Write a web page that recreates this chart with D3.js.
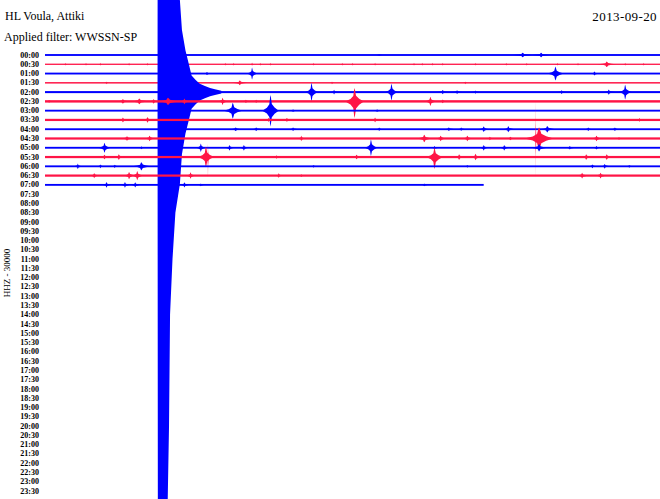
<!DOCTYPE html>
<html>
<head>
<meta charset="utf-8">
<script src="https://cdn.jsdelivr.net/npm/d3@7"></script>
<style>
  body { margin: 0; background: #fff; }
  text { font-family: "Liberation Serif", "DejaVu Serif", serif; fill: #000; }
</style>
</head>
<body>
<div id="heli"></div>
<script>
// Header texts
var stationName = "HL Voula, Attiki",
    filterText = "Applied filter: WWSSN-SP",
    dayLabel = "2013-09-20",
    channelLabel = "HHZ - 30000";

// One trace every 30 minutes
var rowLabels = ["00:00","00:30","01:00","01:30","02:00","02:30","03:00","03:30",
  "04:00","04:30","05:00","05:30","06:00","06:30","07:00","07:30",
  "08:00","08:30","09:00","09:30","10:00","10:30","11:00","11:30",
  "12:00","12:30","13:00","13:30","14:00","14:30","15:00","15:30",
  "16:00","16:30","17:00","17:30","18:00","18:30","19:00","19:30",
  "20:00","20:30","21:00","21:30","22:00","22:30","23:00","23:30"];
var rowColors = ["#0000ff", "#ff1446"];

// background noise level of each recorded trace (in trace spacings)
var noiseLevel = [0.10, 0.07, 0.10, 0.08, 0.11, 0.13, 0.10, 0.12,
                  0.10, 0.12, 0.10, 0.12, 0.10, 0.12, 0.10];
var lastRowEnd = 21.4;   // minutes recorded in the last trace

// events: [row, minute, amplitude up, amplitude down, duration in minutes]
var events = [
  [0,16.3,0.12,0.12,0.3],[0,23.3,0.25,0.25,0.9],[0,24.2,0.25,0.25,0.8],
  [1,1.0,0.16,0.16,0.15],[1,2.0,0.16,0.16,0.15],[1,2.7,0.16,0.16,0.15],[1,4.1,0.16,0.16,0.15],
  [1,5.0,0.16,0.16,0.15],[1,8.8,0.16,0.16,0.15],[1,9.2,0.16,0.16,0.15],[1,10.1,0.18,0.18,0.15],
  [1,10.5,0.16,0.16,0.15],[1,11.0,0.16,0.16,0.15],[1,13.1,0.16,0.16,0.15],[1,14.5,0.16,0.16,0.15],
  [1,15.0,0.16,0.16,0.15],[1,16.1,0.16,0.16,0.15],[1,18.0,0.16,0.16,0.15],[1,18.4,0.16,0.16,0.15],
  [1,18.9,0.16,0.16,0.15],[1,19.4,0.16,0.16,0.15],[1,21.0,0.16,0.16,0.15],[1,22.5,0.16,0.16,0.15],
  [1,23.5,0.16,0.16,0.15],[1,25.0,0.16,0.16,0.15],[1,26.0,0.16,0.16,0.15],[1,27.4,0.3,0.3,0.9],
  [1,28.3,0.16,0.16,0.15],[1,29.2,0.16,0.16,0.15],
  [2,7.9,0.15,0.15,0.6],[2,10.1,0.65,0.65,0.5],[2,24.9,0.75,0.75,0.8],[2,26.8,0.22,0.22,0.5],
  [3,3.0,0.14,0.14,0.2],[3,9.5,0.25,0.25,0.8],[3,14.0,0.14,0.14,0.2],[3,20.5,0.14,0.14,0.2],
  [4,7.9,0.3,0.3,0.6],[4,13.0,1.0,1.0,0.6],[4,14.1,0.25,0.25,0.5],[4,16.9,0.9,0.9,0.6],
  [4,19.4,0.22,0.22,0.6],[4,20.1,0.2,0.2,0.5],[4,21.0,0.18,0.18,0.4],[4,25.2,0.2,0.2,0.5],
  [4,27.5,0.28,0.28,0.6],[4,28.3,0.8,0.8,0.6],
  [5,0.2,0.15,0.15,0.4],[5,3.8,0.25,0.25,0.8],[5,4.6,0.3,0.3,1.0],[5,5.3,0.25,0.25,0.6],
  [5,6.0,0.4,0.4,1.2],[5,6.8,0.3,0.3,0.6],[5,8.66,0.4,0.4,0.5],[5,9.8,0.18,0.18,0.5],
  [5,10.3,0.18,0.18,0.4],[5,15.1,1.45,1.8,0.9],[5,18.8,0.5,0.5,0.6],[5,19.4,0.2,0.2,0.4],
  [6,9.16,0.86,0.86,0.9],[6,11.0,1.7,1.7,0.8],[6,12.1,0.15,0.15,0.4],[6,16.2,0.15,0.15,0.4],
  [7,3.8,0.25,0.25,0.6],[7,5.0,0.3,0.3,0.6],[7,10.9,0.2,0.2,0.5],[7,11.8,0.2,0.2,0.6],
  [7,16.1,0.25,0.25,0.5],[7,29.0,0.2,0.2,0.4],
  [8,9.3,0.18,0.18,0.8],[8,10.3,0.2,0.2,0.6],[8,12.1,0.2,0.2,0.5],[8,16.3,0.18,0.18,0.4],
  [8,19.7,0.2,0.2,0.6],[8,20.3,0.2,0.2,0.4],[8,21.4,0.3,0.3,0.6],[8,22.6,0.33,0.33,0.6],
  [8,24.5,0.35,0.35,0.8],[8,26.5,0.18,0.18,0.5],[8,27.8,0.18,0.18,0.5],
  [9,4.0,0.25,0.25,0.6],[9,5.1,0.3,0.3,0.6],[9,12.5,0.3,0.3,0.4],[9,18.5,0.4,0.4,0.8],
  [9,19.3,0.3,0.3,0.6],[9,20.6,0.3,0.3,0.6],[9,21.7,0.2,0.2,0.4],[9,22.7,0.2,0.2,0.5],
  [9,24.1,1.2,1.2,1.4],[9,23.94,4.1,4.3,0.06],[9,26.9,0.3,0.3,0.6],[9,28.0,0.15,0.15,0.4],
  [10,2.9,0.55,0.55,0.6],[10,4.7,0.15,0.15,0.4],[10,7.6,0.45,0.45,0.5],[10,9.0,0.3,0.3,0.5],
  [10,9.7,0.3,0.3,0.5],[10,15.9,0.9,0.9,0.6],[10,19.0,0.2,0.2,0.4],[10,21.4,0.3,0.3,0.5],
  [10,22.4,0.3,0.3,0.5],[10,24.1,0.4,0.4,0.8],[10,25.6,0.2,0.2,0.5],[10,26.9,0.18,0.18,0.5],
  [11,2.9,0.25,0.25,0.6],[11,3.6,0.3,0.3,0.6],[11,7.85,1.1,1.1,0.8],[11,7.95,1.4,2.2,0.1],
  [11,11.3,0.2,0.2,0.4],[11,15.2,0.25,0.25,0.6],[11,19.0,1.0,1.3,0.8],[11,20.2,0.3,0.3,0.6],
  [11,21.0,0.35,0.35,0.6],[11,26.4,0.3,0.3,0.6],[11,27.4,0.3,0.3,0.6],
  [12,1.6,0.3,0.3,0.4],[12,2.7,0.2,0.2,0.4],[12,3.4,0.18,0.18,0.4],[12,4.7,0.45,0.45,0.9],
  [12,13.1,0.15,0.15,0.3],[12,20.6,0.15,0.15,0.3],[12,26.7,0.2,0.2,0.5],[12,27.3,0.25,0.25,0.5],
  [12,28.5,0.15,0.15,0.4],
  [13,2.4,0.28,0.28,0.5],[13,4.1,0.4,0.4,0.6],[13,4.5,0.5,0.5,0.6],[13,7.1,0.35,0.35,0.5],
  [13,11.4,0.25,0.25,0.4],[13,12.5,0.15,0.15,0.4],[13,26.2,0.3,0.3,0.6],[13,27.1,0.3,0.3,0.6],
  [14,3.0,0.3,0.3,0.5],[14,3.9,0.3,0.3,0.5],[14,4.4,0.28,0.28,0.5],[14,6.8,0.28,0.28,0.5],
  [14,7.6,0.15,0.15,0.4],[14,18.5,0.15,0.15,0.4]
];

// the large earthquake on the 02:00 trace: [minute, amplitude]
var quakeRow = 4;
var quakeEnvelope = [[5.49,0.12],[5.51,60],[5.97,46],[6.05,36],[6.10,24],[6.22,18],
  [6.36,13],[6.58,9.9],[6.68,6.7],[6.85,4.5],[7.03,2.9],[7.15,1.8],[7.35,1.3],[7.55,0.9],
  [7.80,0.65],[8.05,0.45],[8.29,0.32],[8.6,0.15]];

// wave packet outline: [fraction of duration, fraction of amplitude]
var packet = [[-0.5,0],[-0.22,0.18],[-0.07,0.4],[-0.025,0.85],[0,1],[0.025,0.85],
  [0.08,0.42],[0.25,0.2],[0.5,0]];

var width = 660, height = 499;

var svg = d3.select("#heli").append("svg")
    .attr("width", width)
    .attr("height", height);

var x = d3.scaleLinear().domain([0, 30]).range([45, 660]);
var y = d3.scalePoint().domain(rowLabels).range([55, 491]);
var amp = d3.scaleLinear().domain([0, 1]).range([0, y.step()]);

var traces = svg.append("g");
var nRows = noiseLevel.length;

for (var i = 0; i < nRows; i++) {
    var base = y(rowLabels[i]),
        col = rowColors[i % 2],
        tEnd = i == nRows - 1 ? lastRowEnd : 30,
        g = traces.append("g");

    // background noise band
    g.append("rect")
        .attr("x", x(0))
        .attr("y", base - amp(noiseLevel[i]))
        .attr("width", x(tEnd) - x(0))
        .attr("height", 2 * amp(noiseLevel[i]))
        .attr("fill", col);

    // wave packets
    events.filter(function (e) { return e[0] == i; }).forEach(function (e) {
        var area = d3.area()
            .x(function (p) { return x(e[1] + p[0] * e[4]); })
            .y0(function (p) { return base - amp(e[2] * p[1]); })
            .y1(function (p) { return base + amp(e[3] * p[1]); });
        g.append("path").attr("d", area(packet)).attr("fill", col);
    });

    if (i == quakeRow) {
        var quakeArea = d3.area()
            .x(function (p) { return x(p[0]); })
            .y0(function (p) { return base - amp(p[1]); })
            .y1(function (p) { return base + amp(p[1]); });
        g.append("path").attr("d", quakeArea(quakeEnvelope)).attr("fill", col);
    }
}

// time labels
svg.append("g").selectAll("text")
    .data(rowLabels)
    .enter()
    .append("text")
    .attr("x", 39)
    .attr("y", function (d) { return y(d); })
    .attr("dy", "0.32em")
    .attr("text-anchor", "end")
    .style("font-size", "8px")
    .style("font-weight", "bold")
    .text(function (d) { return d; });

// header
svg.append("text").attr("x", 5).attr("y", 20).style("font-size", "12px").text(stationName);
svg.append("text").attr("x", 4).attr("y", 41).style("font-size", "12px").text(filterText);
svg.append("text").attr("x", 657).attr("y", 21).attr("text-anchor", "end")
    .style("font-size", "13px").style("letter-spacing", "0.4px").text(dayLabel);

svg.append("text")
    .attr("transform", "translate(10," + ((y.range()[0] + y.range()[1]) / 2) + ") rotate(-90)")
    .attr("text-anchor", "middle")
    .style("font-size", "9px")
    .text(channelLabel);
</script>
</body>
</html>
